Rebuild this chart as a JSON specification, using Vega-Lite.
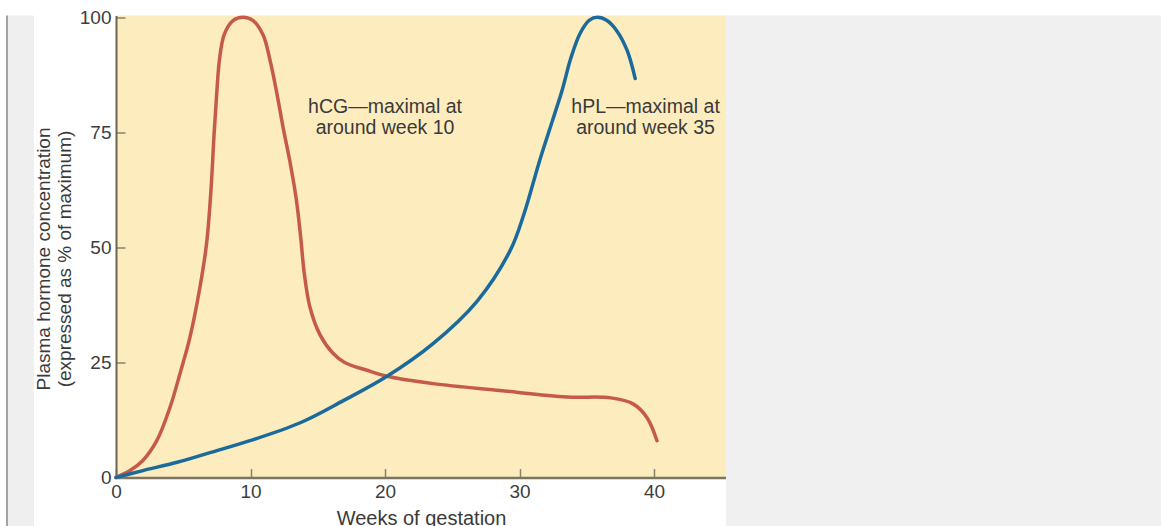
{
  "$schema": "https://vega.github.io/schema/vega-lite/v6.json",
  "background": "white",
  "padding": {"left": 6, "top": 7.5, "right": 0, "bottom": 0},
  "spacing": 0,
  "config": {"view": {"stroke": null}, "font": "Liberation Sans", "concat": {"spacing": 0}},
  "datasets": {
    "curves": [
      {"hormone": "hCG", "week": 0, "value": 0},
      {"hormone": "hCG", "week": 1.04, "value": 1.5},
      {"hormone": "hCG", "week": 2.0, "value": 3.7},
      {"hormone": "hCG", "week": 3.03, "value": 8.0},
      {"hormone": "hCG", "week": 4.01, "value": 15.2},
      {"hormone": "hCG", "week": 4.76, "value": 22.6},
      {"hormone": "hCG", "week": 5.5, "value": 30.5},
      {"hormone": "hCG", "week": 6.25, "value": 41.5},
      {"hormone": "hCG", "week": 6.74, "value": 51.0},
      {"hormone": "hCG", "week": 7.05, "value": 62.0},
      {"hormone": "hCG", "week": 7.3, "value": 75.0},
      {"hormone": "hCG", "week": 7.5, "value": 84.0},
      {"hormone": "hCG", "week": 7.7, "value": 91.0},
      {"hormone": "hCG", "week": 8.05, "value": 96.3},
      {"hormone": "hCG", "week": 8.7, "value": 99.3},
      {"hormone": "hCG", "week": 9.44, "value": 100},
      {"hormone": "hCG", "week": 10.19, "value": 99.3},
      {"hormone": "hCG", "week": 10.93, "value": 96.2},
      {"hormone": "hCG", "week": 11.45, "value": 90.7},
      {"hormone": "hCG", "week": 11.97, "value": 83.3},
      {"hormone": "hCG", "week": 12.42, "value": 76.1},
      {"hormone": "hCG", "week": 12.94, "value": 68.5},
      {"hormone": "hCG", "week": 13.4, "value": 60.5},
      {"hormone": "hCG", "week": 13.72, "value": 52.5},
      {"hormone": "hCG", "week": 14.0, "value": 44.3},
      {"hormone": "hCG", "week": 14.42, "value": 37.0},
      {"hormone": "hCG", "week": 15.17, "value": 31.0},
      {"hormone": "hCG", "week": 16.13, "value": 27.0},
      {"hormone": "hCG", "week": 17.0, "value": 25.0},
      {"hormone": "hCG", "week": 18.66, "value": 23.3},
      {"hormone": "hCG", "week": 20.15, "value": 22.0},
      {"hormone": "hCG", "week": 23.57, "value": 20.4},
      {"hormone": "hCG", "week": 28.55, "value": 18.9},
      {"hormone": "hCG", "week": 33.53, "value": 17.5},
      {"hormone": "hCG", "week": 36.8, "value": 17.3},
      {"hormone": "hCG", "week": 38.44, "value": 16.0},
      {"hormone": "hCG", "week": 39.48, "value": 13.0},
      {"hormone": "hCG", "week": 40.22, "value": 8.0},
      {"hormone": "hPL", "week": 0, "value": 0},
      {"hormone": "hPL", "week": 2.0, "value": 1.5},
      {"hormone": "hPL", "week": 4.54, "value": 3.3},
      {"hormone": "hPL", "week": 6.99, "value": 5.4},
      {"hormone": "hPL", "week": 9.96, "value": 8.0},
      {"hormone": "hPL", "week": 13.7, "value": 11.9},
      {"hormone": "hPL", "week": 16.9, "value": 16.7},
      {"hormone": "hPL", "week": 20.15, "value": 22.0},
      {"hormone": "hPL", "week": 23.57, "value": 29.1},
      {"hormone": "hPL", "week": 26.84, "value": 38.3},
      {"hormone": "hPL", "week": 29.3, "value": 49.3},
      {"hormone": "hPL", "week": 30.3, "value": 57.0},
      {"hormone": "hPL", "week": 31.5, "value": 68.9},
      {"hormone": "hPL", "week": 32.5, "value": 78.0},
      {"hormone": "hPL", "week": 33.2, "value": 84.5},
      {"hormone": "hPL", "week": 33.8, "value": 91.0},
      {"hormone": "hPL", "week": 34.5, "value": 96.5},
      {"hormone": "hPL", "week": 35.2, "value": 99.4},
      {"hormone": "hPL", "week": 35.8, "value": 100},
      {"hormone": "hPL", "week": 36.5, "value": 99.3},
      {"hormone": "hPL", "week": 37.25, "value": 97.0},
      {"hormone": "hPL", "week": 38.0, "value": 92.8},
      {"hormone": "hPL", "week": 38.6, "value": 86.7}
    ],
    "notes": [
      {"week": 20.0, "value": 79.3, "label": "hCG—maximal at\naround week 10"},
      {"week": 39.37, "value": 79.3, "label": "hPL—maximal at\naround week 35"}
    ]
  },
  "hconcat": [
    {"width": 2, "height": 519, "view": {"fill": "#a3a3a3", "stroke": null}, "data": {"values": []}, "mark": "point"},
    {"width": 26, "height": 519, "view": {"fill": "#efefef", "stroke": null}, "data": {"values": []}, "mark": "point"},
    {
      "width": 610,
      "height": 462,
      "view": {"fill": "#fdecbe", "stroke": null},
      "layer": [
        {
          "data": {"name": "curves"},
          "mark": {"type": "line", "interpolate": "catmull-rom", "strokeWidth": 3.5, "strokeCap": "round"},
          "encoding": {
            "x": {
              "field": "week", "type": "quantitative",
              "scale": {"domain": [0, 45.35], "nice": false, "zero": false},
              "axis": {
                "values": [0, 10, 20, 30, 40],
                "title": "Weeks of gestation",
                "titleFontSize": 20, "titleFontWeight": "normal", "titleColor": "#3a3a3a",
                "titleY": 47, "titleX": 305, "titleAlign": "center", "titleBaseline": "alphabetic",
                "labelFontSize": 19, "labelColor": "#3d3d3d", "labelPadding": 14, "labelFlush": false, "labelOverlap": false,
                "tickSize": -9, "tickColor": "#8a8270", "tickWidth": 1.5,
                "domainColor": "#7a7462", "domainWidth": 2.5, "grid": false
              }
            },
            "y": {
              "field": "value", "type": "quantitative",
              "scale": {"domain": [0, 100.4], "nice": false},
              "axis": {
                "values": [0, 25, 50, 75, 100],
                "title": ["Plasma hormone concentration", "(expressed as % of maximum)"],
                "titleFontSize": 19, "titleFontWeight": "normal", "titleColor": "#3a3a3a",
                "titleAngle": -90, "titleX": -72.5, "titleY": 243, "titleAlign": "center", "titleBaseline": "middle", "titleLineHeight": 21,
                "labelFontSize": 19, "labelColor": "#3d3d3d", "labelPadding": 14, "labelFlush": false, "labelOverlap": false,
                "tickSize": -9, "tickColor": "#8a8270", "tickWidth": 1.5,
                "domainColor": "#6b6452", "domainWidth": 2, "grid": false
              }
            },
            "color": {
              "field": "hormone", "type": "nominal",
              "scale": {"domain": ["hCG", "hPL"], "range": ["#c65a48", "#1a6a9c"]},
              "legend": null
            }
          }
        },
        {
          "data": {"name": "notes"},
          "mark": {"type": "text", "fontSize": 19.5, "align": "center", "baseline": "alphabetic", "lineBreak": "\n", "lineHeight": 21, "color": "#3a3a3a"},
          "encoding": {
            "x": {"field": "week", "type": "quantitative"},
            "y": {"field": "value", "type": "quantitative"},
            "text": {"field": "label"}
          }
        }
      ]
    },
    {"width": 435, "height": 519, "view": {"fill": "#f0f0f0", "stroke": null}, "data": {"values": []}, "mark": "point"}
  ]
}
